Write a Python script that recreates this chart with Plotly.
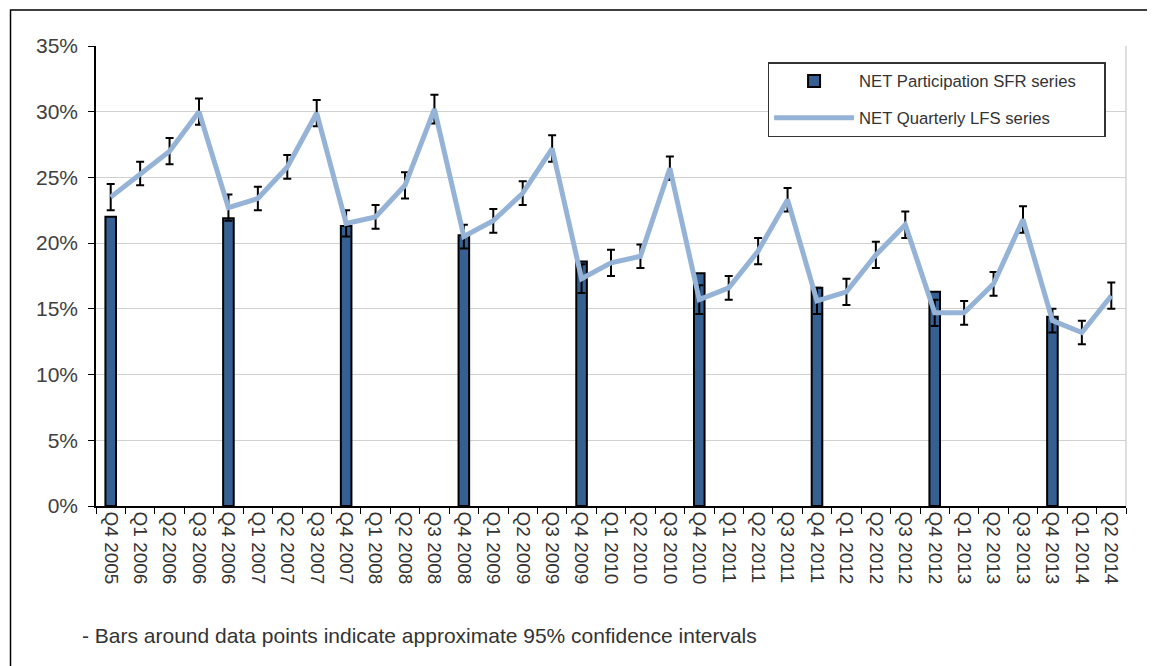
import plotly.graph_objects as go

# quarters on the x axis
quarters = ['Q4 2005',
            'Q1 2006', 'Q2 2006', 'Q3 2006', 'Q4 2006',
            'Q1 2007', 'Q2 2007', 'Q3 2007', 'Q4 2007',
            'Q1 2008', 'Q2 2008', 'Q3 2008', 'Q4 2008',
            'Q1 2009', 'Q2 2009', 'Q3 2009', 'Q4 2009',
            'Q1 2010', 'Q2 2010', 'Q3 2010', 'Q4 2010',
            'Q1 2011', 'Q2 2011', 'Q3 2011', 'Q4 2011',
            'Q1 2012', 'Q2 2012', 'Q3 2012', 'Q4 2012',
            'Q1 2013', 'Q2 2013', 'Q3 2013', 'Q4 2013',
            'Q1 2014', 'Q2 2014']

# SFR participation (Q4 only)
sfr_quarters = ['Q4 2005', 'Q4 2006', 'Q4 2007', 'Q4 2008', 'Q4 2009',
                'Q4 2010', 'Q4 2011', 'Q4 2012', 'Q4 2013']
sfr_values = [0.220, 0.219, 0.213, 0.206, 0.186, 0.177, 0.166, 0.163, 0.144]

# quarterly LFS series and its 95% CI half width
lfs_values = [0.235,
              0.253, 0.270, 0.300, 0.227,
              0.234, 0.258, 0.299, 0.215,
              0.220, 0.244, 0.302, 0.205,
              0.217, 0.238, 0.272, 0.173,
              0.185, 0.190, 0.257, 0.157,
              0.166, 0.194, 0.233, 0.156,
              0.163, 0.191, 0.214, 0.147,
              0.147, 0.169, 0.218, 0.141,
              0.132, 0.160]
lfs_err = [0.010,
           0.009, 0.010, 0.010, 0.010,
           0.009, 0.009, 0.010, 0.010,
           0.009, 0.010, 0.011, 0.009,
           0.009, 0.009, 0.010, 0.011,
           0.010, 0.009, 0.009, 0.011,
           0.009, 0.010, 0.009, 0.010,
           0.010, 0.010, 0.010, 0.010,
           0.009, 0.009, 0.010, 0.009,
           0.009, 0.010]

FONT = 'Liberation Sans, Arial, sans-serif'
PAD = '\u00a0' * 5  # a bit of room at the right of the legend box

fig = go.Figure()
fig.add_trace(go.Bar(
    x=sfr_quarters, y=sfr_values,
    name='NET Participation SFR series' + PAD,
    width=0.36,
    marker=dict(color='#376092', line=dict(color='black', width=2)),
    legendgroup='a',
))
fig.add_trace(go.Scatter(
    x=quarters, y=lfs_values,
    name='NET Quarterly LFS series',
    mode='lines',
    line=dict(color='#95b3d7', width=5),
    error_y=dict(type='data', array=lfs_err, color='black', thickness=2, width=4),
    legendgroup='b',
))

# page body adds 8px margin, so the figure is 8px smaller and shifted
fig.update_layout(
    width=1147, height=658,
    margin=dict(l=88, r=29, t=38, b=160),
    paper_bgcolor='white', plot_bgcolor='white',
    font=dict(family=FONT, color='#404040'),
    showlegend=True,
    legend=dict(
        x=0.652, y=0.965, xanchor='left', yanchor='top',
        bordercolor='#333333', borderwidth=1.5, bgcolor='white',
        font=dict(size=16.7, color='#333333'),
        traceorder='grouped', tracegroupgap=12,
        itemwidth=80,
    ),
)
fig.update_xaxes(
    type='category', categoryorder='array', categoryarray=quarters,
    range=[-0.5, len(quarters) - 0.5],
    tickangle=90, tickfont=dict(size=19, color='#333333'),
    tickson='boundaries', ticks='outside', ticklen=6, tickcolor='black',
    showline=True, linecolor='black', linewidth=1.5,
    showgrid=False, mirror=False,
)
fig.update_yaxes(
    range=[0, 0.35], dtick=0.05, tickformat='.0%',
    tickfont=dict(size=21, color='#404040'),
    ticks='outside', ticklen=6, tickcolor='black', ticklabelstandoff=6,
    showline=True, linecolor='black', linewidth=1.5,
    showgrid=True, gridcolor='#d0d0d0', gridwidth=1.2,
    zeroline=False,
)

# light border on the right of the plot area
fig.add_shape(type='line', xref='paper', yref='paper', x0=1, x1=1, y0=0, y1=1,
              line=dict(color='#c8c8c8', width=1.2))
# outer frame of the chart
fig.add_shape(type='rect', xref='paper', yref='paper',
              x0=-0.083, x1=1.05, y0=-0.5, y1=1.078,
              line=dict(color='black', width=1.5), layer='below')

fig.add_annotation(
    text='- Bars around data points indicate approximate 95% confidence intervals',
    xref='paper', yref='paper', x=-0.016, y=-0.282, xanchor='left', yanchor='middle',
    showarrow=False, font=dict(size=21, color='#333333'),
)

fig.write_html('out.html')
